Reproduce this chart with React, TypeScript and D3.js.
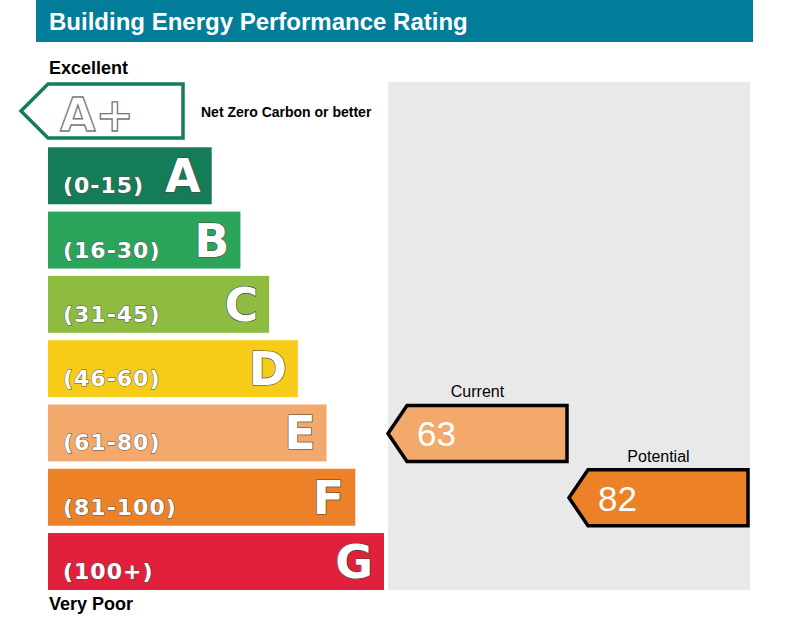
import { useEffect, useRef } from 'react';
import * as d3 from 'd3';

const bands = ['A+', 'A', 'B', 'C', 'D', 'E', 'F', 'G'];
const ranges = ['', '(0-15)', '(16-30)', '(31-45)', '(46-60)', '(61-80)', '(81-100)', '(100+)'];
const bandColors = ['#147c57', '#147c57', '#2ca55c', '#8dbc41', '#f6cc19', '#f2a96b', '#ed8128', '#e1203c'];
const bandMin = [-Infinity, 0, 16, 31, 46, 61, 81, 101];

const ratingNames = ['Current', 'Potential'];
const ratingValues = [63, 82];

const title = 'Building Energy Performance Rating';

const W = 790;
const H = 619;

export default function App() {
  const svgRef = useRef<SVGSVGElement>(null);

  useEffect(() => {
    document.body.style.margin = '0';
    if (!svgRef.current) return;
    const svg = d3.select(svgRef.current);
    svg.selectAll('*').remove();

    const font = 'Liberation Sans, Arial, sans-serif';

    // Scales
    const y = d3.scaleBand<string>().domain(bands).range([83, 590]).paddingInner(0.114);
    const barEnd = d3.scalePoint<string>().domain(bands).range([183, 384]);
    const barStart = 48;
    const col = d3.scaleBand<string>().domain(ratingNames).range([388, 750]);

    const bandOf = (v: number) => {
      let b = bands[1];
      bandMin.forEach((m, i) => { if (i > 0 && v >= m) b = bands[i]; });
      return b;
    };

    // Title bar
    svg.append('rect').attr('x', 36).attr('y', 0).attr('width', 717).attr('height', 42).attr('fill', '#017c99');
    svg.append('text')
      .attr('x', 49).attr('y', 30)
      .attr('fill', '#fff')
      .style('font-family', font).style('font-weight', 'bold').style('font-size', '24px')
      .text(title);

    // Grey panel
    svg.append('rect')
      .attr('x', col.range()[0]).attr('y', 82)
      .attr('width', col.range()[1] - col.range()[0]).attr('height', 508)
      .attr('fill', '#e9e9e9');

    svg.append('text').attr('x', 49).attr('y', 74)
      .style('font-family', font).style('font-weight', 'bold').style('font-size', '18px')
      .text('Excellent');
    svg.append('text').attr('x', 49).attr('y', 610)
      .style('font-family', font).style('font-weight', 'bold').style('font-size', '18px')
      .text('Very Poor');

    // A+ outlined arrow
    const ap = 'A+';
    const apTop = y(ap)! + 1;
    const apBot = y(ap)! + y.bandwidth() - 2;
    const apMid = (apTop + apBot) / 2;
    svg.append('path')
      .attr('d', `M${barStart},${apTop} L${barEnd(ap)},${apTop} L${barEnd(ap)},${apBot} L${barStart},${apBot} L${barStart - 27},${apMid} Z`)
      .attr('fill', '#fff')
      .attr('stroke', bandColors[0])
      .attr('stroke-width', 3.5);
    svg.append('text')
      .attr('x', 60).attr('y', apTop + 47)
      .attr('fill', '#fff').attr('stroke', '#777').attr('stroke-width', 1.3)
      .style('font-family', 'DejaVu Sans, sans-serif').style('font-weight', 'bold').style('font-size', '46px')
      .text('A+');
    svg.append('text')
      .attr('x', 201).attr('y', 117)
      .style('font-family', font).style('font-weight', 'bold').style('font-size', '14px')
      .text('Net Zero Carbon or better');

    // Bars
    const rest = bands.slice(1);
    const g = svg.append('g');
    const rows = g.selectAll('g.row').data(rest).enter().append('g').attr('class', 'row');
    rows.append('rect')
      .attr('x', barStart)
      .attr('y', d => y(d)!)
      .attr('width', d => barEnd(d)! - barStart)
      .attr('height', y.bandwidth())
      .attr('fill', d => bandColors[bands.indexOf(d)]);
    rows.append('text')
      .attr('x', 63)
      .attr('y', d => y(d)! + 46)
      .attr('fill', '#fff').attr('stroke', '#555').attr('stroke-width', 1)
      .style('paint-order', 'stroke')
      .style('font-family', 'DejaVu Sans, sans-serif').style('font-weight', 'bold').style('font-size', '22px')
      .style('letter-spacing', '1px')
      .text(d => ranges[bands.indexOf(d)]);
    rows.append('text')
      .attr('x', d => barEnd(d)! - 11)
      .attr('y', d => y(d)! + 45)
      .attr('text-anchor', 'end')
      .attr('fill', '#fff').attr('stroke', '#444').attr('stroke-width', 1.2)
      .style('paint-order', 'stroke')
      .style('font-family', 'DejaVu Sans, sans-serif').style('font-weight', 'bold').style('font-size', '46px')
      .text(d => d);

    // Rating arrows
    ratingNames.forEach((name, i) => {
      const v = ratingValues[i];
      const b = bandOf(v);
      const x0 = col(name)!;
      const x1 = x0 + col.bandwidth() - 2;
      const t = y(b)! + 1;
      const bt = y(b)! + y.bandwidth();
      const mid = (t + bt) / 2;
      const tip = 19;
      svg.append('path')
        .attr('d', `M${x0 + tip},${t} L${x1},${t} L${x1},${bt} L${x0 + tip},${bt} L${x0},${mid} Z`)
        .attr('fill', bandColors[bands.indexOf(b)])
        .attr('stroke', '#000')
        .attr('stroke-width', 3.5)
        .attr('stroke-linejoin', 'miter');
      svg.append('text')
        .attr('x', x0 + 29).attr('y', mid + 13)
        .attr('fill', '#fff')
        .style('font-family', font).style('font-size', '35px')
        .text(v);
      svg.append('text')
        .attr('x', (x0 + x1) / 2).attr('y', t - 8)
        .attr('text-anchor', 'middle')
        .style('font-family', font).style('font-size', '16px')
        .text(name);
    });
  }, []);

  return <svg ref={svgRef} width={W} height={H} style={{ display: 'block' }}></svg>;
}
